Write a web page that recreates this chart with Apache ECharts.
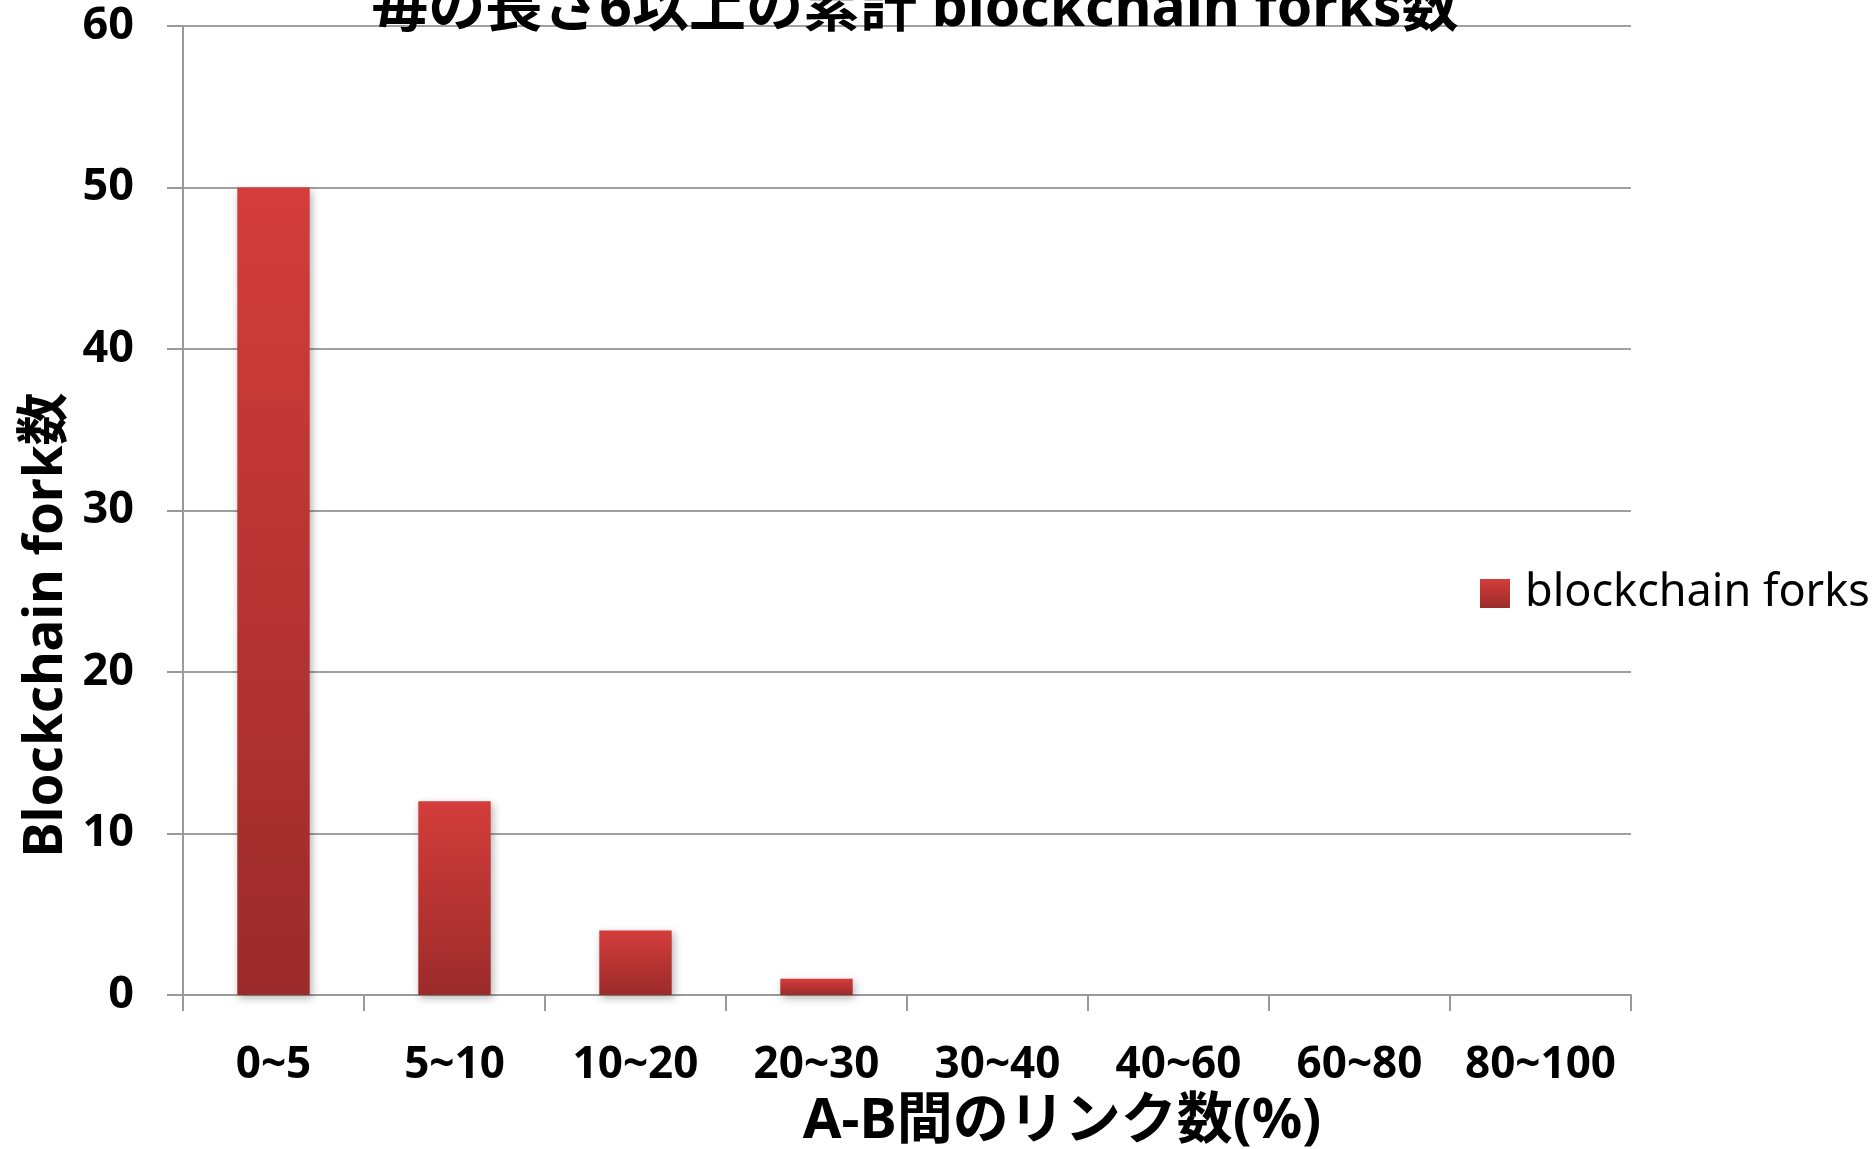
<!DOCTYPE html>
<html>
<head>
<meta charset="utf-8">
<script src="https://cdn.jsdelivr.net/npm/echarts@6/dist/echarts.min.js"></script>
<style>
  html, body { margin: 0; padding: 0; background: #fff; }
  #chart { width: 1875px; height: 1149px; }
</style>
</head>
<body>
<div id="chart"></div>
<script>
// Link-ratio buckets between A and B, and the cumulative fork counts per bucket
const categories = ['0~5', '5~10', '10~20', '20~30', '30~40', '40~60', '60~80', '80~100'];
const forkCounts = [50, 12, 4, 1, 0, 0, 0, 0];
const yTicks = { min: 0, max: 60, interval: 10 };

const titleText = '毎の長さ6以上の累計 blockchain forks数';
const yAxisTitle = 'Blockchain fork数';
const xAxisTitle = 'A-B間のリンク数(%)';
const seriesName = 'blockchain forks';

const FONT = '"Noto Sans", "Noto Sans CJK JP", sans-serif';

const chart = echarts.init(document.getElementById('chart'), null, { renderer: 'canvas' });

const barGradient = new echarts.graphic.LinearGradient(0, 0, 0, 1, [
  { offset: 0, color: '#d33d3b' },
  { offset: 1, color: '#9b2b2a' }
]);

chart.setOption({
  backgroundColor: '#ffffff',
  animation: false,
  grid: { left: 183, right: 244, top: 26, bottom: 154, containLabel: false },
  graphic: [
    {
      type: 'text',
      x: 915, y: 10,
      style: {
        text: titleText,
        font: 'bold 57px ' + FONT,
        fill: '#000',
        align: 'center',
        verticalAlign: 'middle'
      },
      z: 10
    },
    {
      type: 'text',
      x: 47, y: 625,
      rotation: Math.PI / 2,
      style: {
        text: yAxisTitle,
        font: 'bold 53px ' + FONT,
        fill: '#000',
        align: 'center',
        verticalAlign: 'middle'
      }
    },
    {
      type: 'text',
      x: 1062, y: 1122,
      style: {
        text: xAxisTitle,
        font: 'bold 56px ' + FONT,
        fill: '#000',
        align: 'center',
        verticalAlign: 'middle'
      }
    }
  ],
  legend: {
    orient: 'vertical',
    left: 1475,
    top: 566,
    itemWidth: 30,
    itemHeight: 29,
    icon: 'rect',
    textStyle: {
      fontFamily: FONT,
      fontSize: 45,
      color: '#000',
      padding: [0, 0, 0, 10]
    },
    data: [seriesName]
  },
  xAxis: {
    type: 'category',
    data: categories,
    boundaryGap: true,
    axisLine: { show: true, lineStyle: { color: '#9a9a9a', width: 2 } },
    axisTick: { show: true, length: 16, lineStyle: { color: '#9a9a9a', width: 2 } },
    axisLabel: {
      margin: 48,
      fontFamily: FONT,
      fontWeight: 'bold',
      fontSize: 44,
      color: '#000',
      interval: 0
    },
    splitLine: { show: false }
  },
  yAxis: {
    type: 'value',
    min: yTicks.min,
    max: yTicks.max,
    interval: yTicks.interval,
    axisLine: { show: true, lineStyle: { color: '#9a9a9a', width: 2 } },
    axisTick: { show: true, length: 16, lineStyle: { color: '#9a9a9a', width: 2 } },
    axisLabel: {
      margin: 49,
      fontFamily: FONT,
      fontWeight: 'bold',
      fontSize: 45,
      color: '#000'
    },
    splitLine: { show: true, lineStyle: { color: '#a0a0a0', width: 2 } }
  },
  series: [
    {
      name: seriesName,
      type: 'bar',
      data: forkCounts,
      barWidth: '40%',
      itemStyle: {
        color: barGradient,
        shadowBlur: 8,
        shadowColor: 'rgba(0,0,0,0.3)',
        shadowOffsetX: 2,
        shadowOffsetY: 3
      }
    }
  ]
});
</script>
</body>
</html>
